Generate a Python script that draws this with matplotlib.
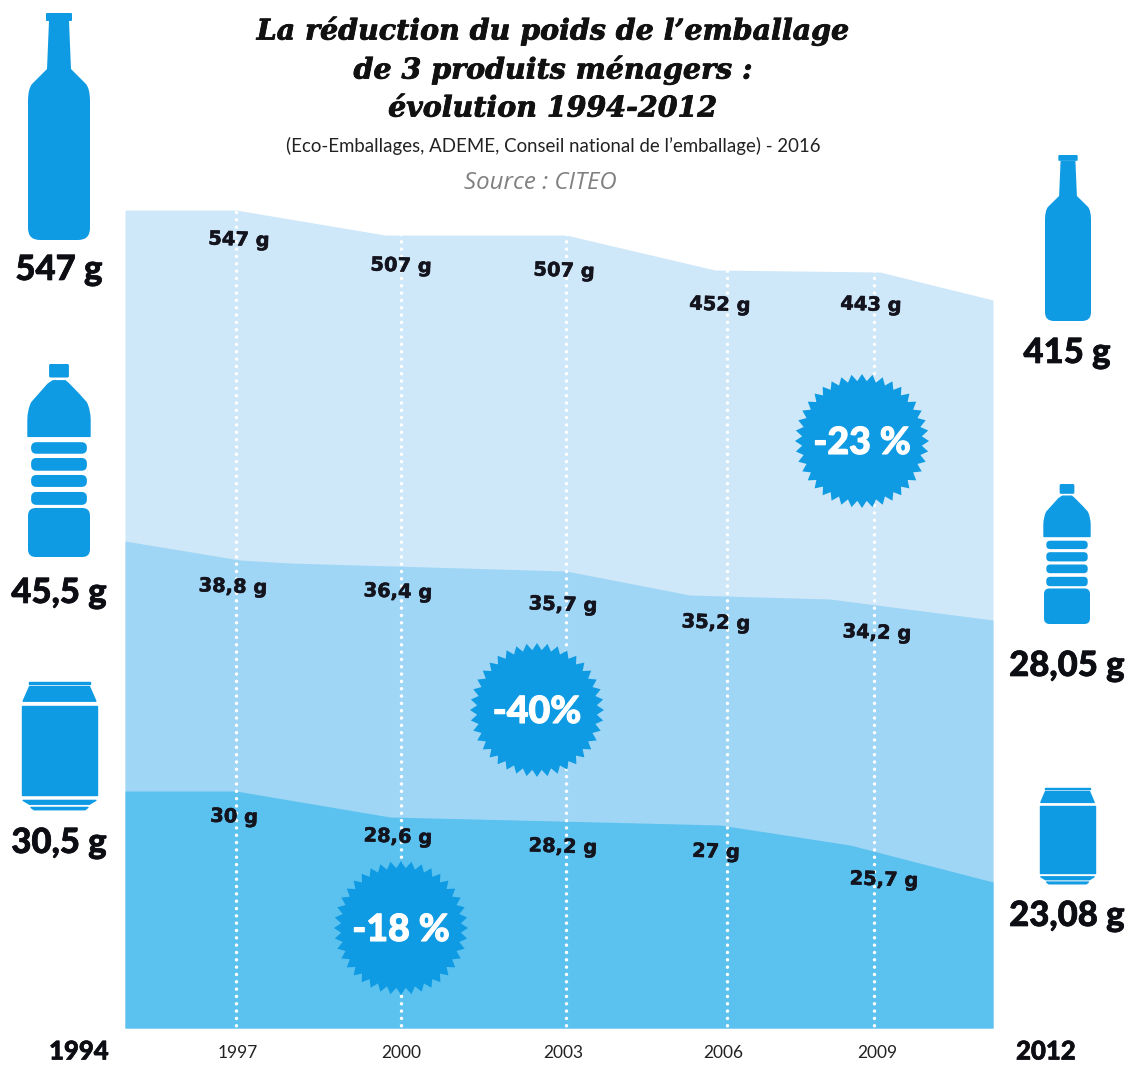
import numpy as np
import matplotlib
matplotlib.use('Agg')
import matplotlib.pyplot as plt
import matplotlib.patheffects as pe
from matplotlib.patches import Polygon, FancyBboxPatch, PathPatch
from matplotlib.path import Path

# Band outlines (image pixels, y going down)
glass_x = [125, 236, 385, 566, 715, 880, 993]
glass_top = [210, 210, 235, 235, 270, 272, 300]
pet_x = [125, 240, 290, 566, 690, 830, 993]
pet_top = [541, 560, 563, 571, 595, 599, 620]
can_x = [125, 236, 390, 600, 720, 850, 993]
can_top = [791, 791, 817, 822, 825, 845, 882]
chart_bottom = 1028

years = ['1997', '2000', '2003', '2006', '2009']
year_x = [236, 401, 566, 727, 874]
year_label_x = [238, 401, 563, 723, 877]

glass_labels = ['547 g', '507 g', '507 g', '452 g', '443 g']
glass_label_x = [239, 401, 564, 720, 871]
glass_label_y = [240, 266, 271, 305, 305]
pet_labels = ['38,8 g', '36,4 g', '35,7 g', '35,2 g', '34,2 g']
pet_label_x = [233, 398, 563, 716, 877]
pet_label_y = [587, 592, 605, 623, 633]
can_labels = ['30 g', '28,6 g', '28,2 g', '27 g', '25,7 g']
can_label_x = [234, 398, 563, 716, 884]
can_label_y = [817, 837, 847, 852, 880]

badges = ['-23 %', '-40%', '-18 %']
badge_x = [862, 537, 401]
badge_y = [441, 710, 928]

LIGHT = '#cfe8f9'
MID = '#a0d6f5'
DARK = '#5bc2f0'
ICON = '#0f9be3'

fig = plt.figure(figsize=(11.29, 10.65), dpi=100)
ax = fig.add_axes([0, 0, 1, 1])
ax.set_xlim(0, 1129)
ax.set_ylim(1065, 0)
ax.axis('off')

# Bands
ax.fill_between(glass_x, glass_top, chart_bottom, color=LIGHT, lw=0, zorder=1)
ax.fill_between(pet_x, pet_top, chart_bottom, color=MID, lw=0, zorder=2)
ax.fill_between(can_x, can_top, chart_bottom, color=DARK, lw=0, zorder=3)

# White dotted year lines
for x in year_x:
    ax.plot([x, x], [212, chart_bottom], color='white', lw=2.5,
            ls=(0, (0.01, 2.1)), dash_capstyle='round', zorder=4)


def rbox(x0, y0, x1, y1, r):
    ax.add_patch(FancyBboxPatch((x0 + r, y0 + r), x1 - x0 - 2 * r, y1 - y0 - 2 * r,
                                boxstyle=f'round,pad={r},rounding_size={r}',
                                fc=ICON, ec='none', zorder=5))


def glass_bottle(x0, y0, x1, y1):
    sx = (x1 - x0) / 62
    sy = (y1 - y0) / 227
    pts = [(21, 8), (19, 56), (4, 71), (0, 76), (0, 88), (0, 215), (0, 227), (12, 227),
           (50, 227), (62, 227), (62, 215), (62, 88), (62, 76), (58, 71), (43, 56), (41, 8), (21, 8)]
    codes = [Path.MOVETO, Path.LINETO, Path.LINETO, Path.CURVE3, Path.CURVE3, Path.LINETO,
             Path.CURVE3, Path.CURVE3, Path.LINETO, Path.CURVE3, Path.CURVE3, Path.LINETO,
             Path.CURVE3, Path.CURVE3, Path.LINETO, Path.LINETO, Path.CLOSEPOLY]
    verts = [(x0 + px * sx, y0 + py * sy) for px, py in pts]
    ax.add_patch(PathPatch(Path(verts, codes), fc=ICON, ec='none', zorder=5))
    rbox(x0 + 18 * sx, y0, x0 + 44 * sx, y0 + 8 * sy, 1)


def pet_bottle(x0, y0, x1, y1):
    w = x1 - x0
    h = y1 - y0
    rbox(x0 + 0.34 * w, y0, x0 + 0.66 * w, y0 + 0.07 * h, 1.5)
    pts = [(0.4, 0.087), (0.6, 0.087), (0.68, 0.105), (0.94, 0.2), (1.0, 0.24), (1.0, 0.29),
           (1.0, 0.375), (0, 0.375), (0, 0.29), (0, 0.24), (0.06, 0.2), (0.32, 0.105), (0.4, 0.087)]
    codes = [Path.MOVETO, Path.LINETO, Path.CURVE3, Path.LINETO, Path.CURVE3, Path.CURVE3,
             Path.LINETO, Path.LINETO, Path.LINETO, Path.CURVE3, Path.CURVE3, Path.LINETO, Path.CURVE3]
    # the last segment needs a matching curve end point
    codes[-1] = Path.LINETO
    verts = [(x0 + a * w, y0 + b * h) for a, b in pts]
    ax.add_patch(PathPatch(Path(verts, codes), fc=ICON, ec=ICON, lw=1, joinstyle='round', zorder=5))
    for a, b in [(0.405, 0.465), (0.487, 0.553), (0.575, 0.637), (0.663, 0.73)]:
        rbox(x0 + 0.05 * w, y0 + a * h, x1 - 0.05 * w, y0 + b * h, 0.028 * h)
    rbox(x0, y0 + 0.746 * h, x1, y1, 0.04 * h)


def can_icon(x0, y0, x1, y1):
    w = x1 - x0
    h = y1 - y0
    shapes = [
        [(0.09, 0.002), (0.91, 0.002), (0.91, 0.014), (0.09, 0.014)],
        [(0.1, 0.036), (0.9, 0.036), (0.985, 0.15), (0.015, 0.15)],
        [(0.005, 0.19), (0.995, 0.19), (0.995, 0.885), (0.005, 0.885)],
        [(0.015, 0.925), (0.985, 0.925), (0.9, 0.955), (0.1, 0.955)],
        [(0.12, 0.98), (0.88, 0.98), (0.84, 0.998), (0.16, 0.998)],
    ]
    for s in shapes:
        ax.add_patch(Polygon([(x0 + a * w, y0 + b * h) for a, b in s], fc=ICON, ec=ICON, lw=1,
                             joinstyle='round', zorder=5))


glass_bottle(28, 13, 90, 240)
glass_bottle(1045, 155, 1091, 321)
pet_bottle(28, 364, 90, 557)
pet_bottle(1044, 484, 1090, 624)
can_icon(22, 682, 97, 810)
can_icon(1040, 788, 1095, 884)

# Percent badges
for label, cx, cy in zip(badges, badge_x, badge_y):
    angles = np.linspace(0, 2 * np.pi, 81)[:-1]
    radii = np.where(np.arange(80) % 2 == 0, 67, 60)
    star = np.column_stack([cx + radii * np.cos(angles), cy + radii * np.sin(angles)])
    ax.add_patch(Polygon(star, fc=ICON, ec='none', zorder=6))
    t = ax.text(cx, cy + 2, label, color='white', fontsize=27, family='Lato', weight='black',
                ha='center', va='center', zorder=7)
    t.set_path_effects([pe.withStroke(linewidth=0.8, foreground='white')])

# Value labels inside bands
value_font = dict(color='#14141e', fontsize=14, family='DejaVu Sans', weight='bold',
                  ha='center', va='center', rotation=-2, zorder=8)
for labels, xs, ys in [(glass_labels, glass_label_x, glass_label_y),
                       (pet_labels, pet_label_x, pet_label_y),
                       (can_labels, can_label_x, can_label_y)]:
    for label, x, y in zip(labels, xs, ys):
        t = ax.text(x, y, label, **value_font)
        t.set_path_effects([pe.withStroke(linewidth=0.4, foreground='#14141e')])

# End weights
end_font = dict(color='#0d0d14', fontsize=25, family='Lato', weight='black', ha='center', va='center')
end_labels = ['547 g', '45,5 g', '30,5 g', '415 g', '28,05 g', '23,08 g']
end_x = [59, 59, 59, 1067, 1067, 1067]
end_y = [270, 593, 843, 353, 666, 916]
for label, x, y in zip(end_labels, end_x, end_y):
    t = ax.text(x, y, label, **end_font)
    t.set_path_effects([pe.withStroke(linewidth=0.5, foreground='#0d0d14')])

# Year labels
for label, x in zip(years, year_label_x):
    ax.text(x, 1053, label, fontsize=12.5, family='Lato', color='#222222', ha='center', va='center')
for label, x in [('1994', 79), ('2012', 1046)]:
    t = ax.text(x, 1059.5, label, fontsize=18.5, family='Lato', weight='black', color='#0d0d14',
                ha='center', va='baseline')
    t.set_path_effects([pe.withStroke(linewidth=0.5, foreground='#0d0d14')])

# Title block
title_font = dict(fontsize=20.5, family='DejaVu Serif', weight='bold', style='italic',
                  color='#111111', ha='center', va='center')
for label, y in [('La réduction du poids de l’emballage', 31),
                 ('de 3 produits ménagers :', 70),
                 ('évolution 1994-2012', 109)]:
    t = ax.text(553, y, label, **title_font)
    t.set_path_effects([pe.withStroke(linewidth=0.6, foreground='#111111')])
ax.text(553, 146, '(Eco-Emballages, ADEME, Conseil national de l’emballage) - 2016',
        fontsize=13.4, family='Lato', color='#222222', ha='center', va='center')
ax.text(540, 183, 'Source : CITEO', fontsize=17.3, family='Open Sans', style='italic',
        color='#808080', ha='center', va='center')

fig.savefig('out.png', dpi=100, facecolor='white')
